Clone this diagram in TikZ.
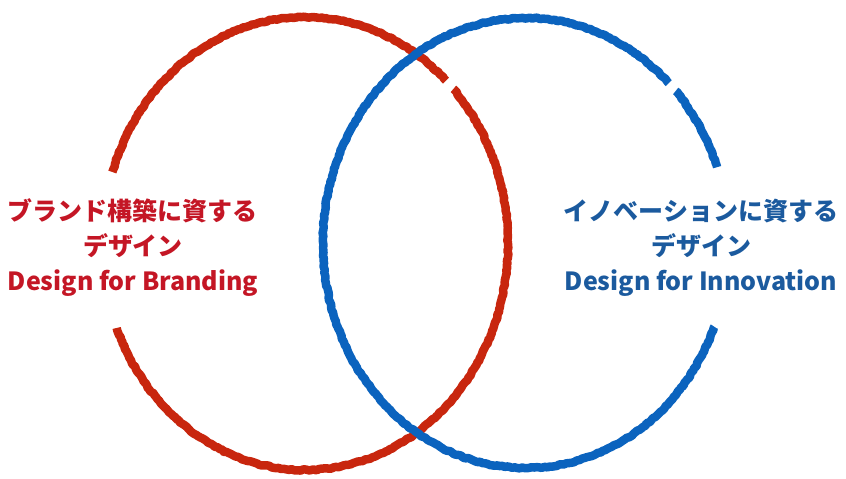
\documentclass[tikz,border=0pt]{standalone}
\usepackage{fontspec}
\newfontfamily\jpfont{Noto Sans CJK JP}
\usetikzlibrary{decorations.pathmorphing}
\definecolor{brandred}{HTML}{C8260E}
\definecolor{innoblue}{HTML}{0B63BE}
\definecolor{brandtext}{HTML}{C41625}
\definecolor{innotext}{HTML}{1B5A9E}
\tikzstyle{chalk} = [line width=8.5pt, line join=round, decorate, decoration={random steps, segment length=2.5pt, amplitude=0.7pt}]
\tikzstyle{ringtext} = [align=center, inner sep=0pt, font=\jpfont\bfseries\fontsize{25}{35}\selectfont]

\begin{document}
\begin{tikzpicture}[x=1pt, y=1pt]
		\useasboundingbox (0,0) rectangle (846,479);
		% red ring, open on the left for its label
		\draw [chalk, brandred] (305,235.5) ++(201.9:203 and 226.5) arc[start angle=201.9, end angle=403, x radius=203, y radius=226.5];
		\draw [chalk, brandred] (305,235.5) ++(46:203 and 226.5) arc[start angle=46, end angle=161.6, x radius=203, y radius=226.5];
		% blue ring, open on the right for its label
		\draw [chalk, innoblue] (526,236) ++(19.7:203 and 225) arc[start angle=19.7, end angle=42.5, x radius=203, y radius=225];
		\draw [chalk, innoblue] (526,236) ++(45.3:203 and 225) arc[start angle=45.3, end angle=338.1, x radius=203, y radius=225];
		\node (branding) [ringtext, text=brandtext] at (133,231) {ブランド構築に資する\\デザイン\\Design for Branding};
		\node (innovation) [ringtext, text=innotext] at (701,231) {イノベーションに資する\\デザイン\\Design for Innovation};
\end{tikzpicture}
\end{document}
